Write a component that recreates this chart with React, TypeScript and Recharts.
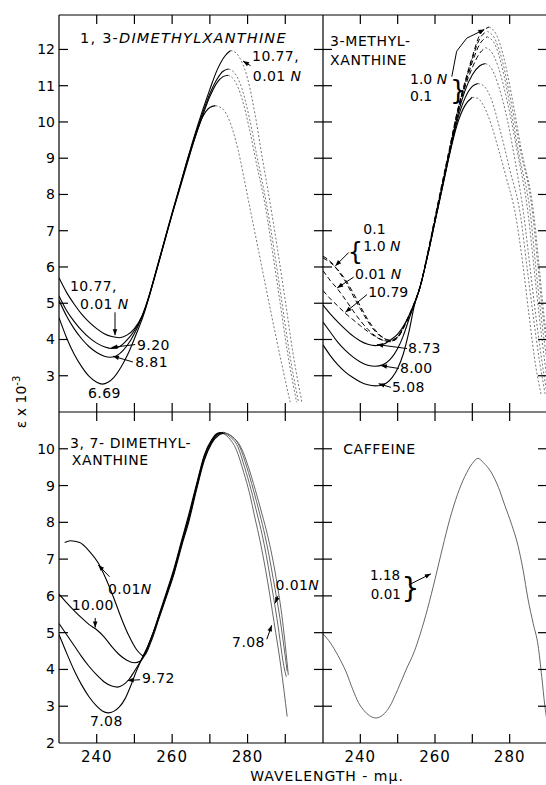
import React from "react";
import { LineChart, Line, XAxis, YAxis, ReferenceDot, ReferenceLine } from "recharts";

const FONT = "'DejaVu Sans', Verdana, sans-serif";

type Pt = [number, number];

// axes
const nmTicksWide = [240, 250, 260, 270, 280, 290];
const nmTicksNarrow = [240, 250, 260, 270, 280];
const nmLabels = [240, 260, 280];
const epsTicksTop = [3, 4, 5, 6, 7, 8, 9, 10, 11, 12];
const epsTicksBottom = [3, 4, 5, 6, 7, 8, 9, 10];
const epsLabelsBottom = [2, 3, 4, 5, 6, 7, 8, 9, 10];

// 1,3-dimethylxanthine  [mμ, ε x 10^-3]
const theo1077: Pt[] = [[230, 5.7], [232, 5.3], [234, 4.98], [236, 4.7], [238, 4.48], [240, 4.3], [242, 4.16], [244, 4.08], [246, 4.05], [248, 4.12], [250, 4.3], [252, 4.65], [254, 5.25], [256, 6.0], [258, 6.75], [260, 7.5], [262, 8.22], [264, 8.95], [266, 9.65], [268, 10.3], [270, 10.9], [272, 11.45], [274, 11.82], [275.5, 11.97], [277, 11.9], [278.5, 11.65], [280, 11.2], [282, 10.2], [284, 8.95], [286, 7.75], [288, 6.45], [290, 5.07], [292, 3.65], [294.4, 2.27]];
const theo920: Pt[] = [[230, 5.2], [232, 4.8], [234, 4.5], [236, 4.25], [238, 4.05], [240, 3.9], [242, 3.8], [244, 3.75], [246, 3.8], [248, 3.98], [250, 4.25], [252, 4.62], [254, 5.22], [256, 5.97], [258, 6.73], [260, 7.48], [262, 8.2], [264, 8.93], [266, 9.6], [268, 10.22], [270, 10.78], [272, 11.2], [273.5, 11.4], [275, 11.46], [276.5, 11.36], [278.5, 10.92], [280.5, 10.1], [282.5, 9.05], [285, 7.75], [287, 6.5], [289, 5.1], [291, 3.7], [293.5, 2.27]];
const theo881: Pt[] = [[230, 5.08], [232, 4.65], [234, 4.3], [236, 4.02], [238, 3.8], [240, 3.64], [242, 3.54], [243.5, 3.51], [245, 3.54], [247, 3.7], [249, 3.98], [251, 4.38], [253, 4.9], [254.5, 5.42], [256, 5.96], [258, 6.72], [260, 7.46], [262, 8.18], [264, 8.9], [266, 9.55], [268, 10.15], [270, 10.7], [272, 11.1], [273.5, 11.25], [274.8, 11.29], [276.5, 11.15], [278.5, 10.65], [280.5, 9.8], [282.5, 8.78], [284.5, 7.8], [286.5, 6.5], [288.5, 5.1], [290.5, 3.7], [293, 2.27]];
const theo669: Pt[] = [[230, 4.6], [232, 4.05], [234, 3.6], [236, 3.25], [238, 2.98], [240, 2.82], [241.5, 2.77], [243, 2.82], [244.5, 2.95], [246.5, 3.25], [248.5, 3.65], [250.5, 4.15], [252.5, 4.7], [254, 5.22], [256, 5.95], [258, 6.7], [260, 7.45], [262, 8.15], [264, 8.85], [266, 9.55], [268, 10.12], [270, 10.4], [271.5, 10.45], [273.5, 10.35], [275.5, 9.95], [277.5, 9.22], [280, 7.95], [283, 6.4], [286, 4.85], [289, 3.35], [291.3, 2.27]];

// 3-methylxanthine
const mx508: Pt[] = [[230, 3.85], [232, 3.55], [234, 3.3], [236, 3.1], [238, 2.95], [240, 2.83], [242, 2.75], [244, 2.72], [245.5, 2.73], [247, 2.8], [248.5, 2.95], [250, 3.2], [251.5, 3.6], [253, 4.2], [254.5, 4.95], [256, 5.45], [258, 6.3], [260, 7.25], [262, 8.2], [264, 9.15], [266, 9.95], [268, 10.45], [270, 10.68], [271.5, 10.65], [273, 10.45], [275, 9.95], [277, 9.25], [279, 8.5], [281.6, 7.42], [283.5, 6.1], [285.2, 4.66], [287, 3.25], [288.5, 2.45]];
const mx800: Pt[] = [[230, 4.48], [232, 4.2], [234, 3.92], [236, 3.7], [238, 3.52], [240, 3.38], [242, 3.29], [244, 3.26], [246, 3.3], [248, 3.45], [250, 3.75], [251.5, 4.1], [253, 4.55], [254.5, 4.98], [256, 5.45], [258, 6.3], [260, 7.25], [262, 8.2], [264, 9.17], [266, 10.05], [268, 10.65], [270, 10.98], [271.5, 11.06], [273, 11.0], [275, 10.65], [277.5, 9.75], [280, 8.7], [282.9, 7.42], [284.7, 5.95], [286.3, 4.66], [288, 3.4], [289.5, 2.5]];
const mx873: Pt[] = [[230, 4.95], [232, 4.7], [234, 4.48], [236, 4.28], [238, 4.1], [240, 3.96], [242, 3.87], [244, 3.83], [246, 3.86], [248, 3.98], [250, 4.15], [252, 4.45], [254, 4.88], [256, 5.45], [258, 6.32], [260, 7.28], [262, 8.25], [264, 9.22], [266, 10.15], [268, 10.85], [270, 11.3], [272, 11.55], [273.5, 11.61], [275, 11.5], [277, 11.0], [279.5, 10.0], [281.5, 8.9], [283.8, 7.42], [285.5, 5.95], [287, 4.66], [288.5, 3.5], [290, 2.5]];
const mx1079: Pt[] = [[230, 5.35], [232, 5.12], [234, 4.92], [236, 4.72], [238, 4.55], [240, 4.38], [242, 4.22], [244, 4.08], [246, 3.98], [248, 3.95], [250, 4.05], [252, 4.4], [254, 4.85], [256, 5.43], [258, 6.32], [260, 7.3], [262, 8.28], [264, 9.25], [266, 10.2], [268, 10.95], [270, 11.5], [272, 11.9], [273.5, 12.05], [275, 11.95], [277, 11.5], [279.5, 10.5], [282, 9.2], [285, 7.42], [286.5, 6.0], [287.9, 4.66], [289.5, 3.3], [290, 2.9]];
const mx001N: Pt[] = [[230, 5.9], [232, 5.62], [234, 5.38], [236, 5.1], [238, 4.8], [240, 4.52], [242, 4.28], [244, 4.1], [246, 3.98], [248, 3.94], [250, 4.05], [252, 4.42], [254, 4.87], [256, 5.44], [258, 6.33], [260, 7.32], [262, 8.3], [264, 9.28], [266, 10.25], [268, 11.0], [270, 11.65], [272, 12.15], [274, 12.35], [276, 12.15], [278, 11.5], [280, 10.5], [282.5, 9.1], [285.6, 7.42], [287, 6.0], [288.4, 4.66], [290, 3.4]];
const mx10N: Pt[] = [[230, 6.3], [232, 6.15], [234, 5.9], [236, 5.6], [238, 5.22], [240, 4.85], [242, 4.5], [244, 4.22], [246, 4.05], [248, 3.97], [250, 4.08], [252, 4.43], [254, 4.88], [256, 5.45], [258, 6.35], [260, 7.35], [262, 8.33], [264, 9.3], [266, 10.28], [268, 11.05], [270, 11.75], [272, 12.3], [274, 12.5], [276, 12.3], [278, 11.7], [280, 10.75], [282.5, 9.4], [286.2, 7.42], [287.6, 6.0], [288.9, 4.66], [290, 3.8]];
const mx01N: Pt[] = [[230, 6.25], [232, 6.12], [234, 5.92], [236, 5.65], [238, 5.3], [240, 4.92], [242, 4.55], [244, 4.26], [246, 4.06], [248, 3.98], [250, 4.08], [252, 4.44], [254, 4.9], [256, 5.47], [258, 6.37], [260, 7.37], [262, 8.36], [264, 9.33], [266, 10.3], [268, 11.1], [270, 11.8], [272, 12.4], [274.5, 12.62], [276.5, 12.4], [278.5, 11.75], [280.5, 10.75], [283, 9.3], [286.5, 7.42], [288, 5.9], [289.2, 4.66], [290, 4.0]];

// 3,7-dimethylxanthine
const tb001N: Pt[] = [[231.5, 7.45], [233, 7.5], [235.5, 7.45], [238, 7.22], [240.5, 6.88], [242.5, 6.45], [244.5, 5.95], [246.5, 5.4], [248.5, 4.92], [250.5, 4.55], [252.5, 4.37], [254.5, 4.78], [256.5, 5.38], [258.5, 5.98], [260.5, 6.6], [262.5, 7.35], [264.5, 8.05], [266.5, 8.9], [268.5, 9.68], [270.5, 10.15], [272.5, 10.38], [274, 10.43], [276, 10.33], [278.2, 10.05], [280.3, 9.48], [282, 8.9], [283.9, 8.2], [285.3, 7.65], [287.6, 6.47], [289.3, 5.3], [290.8, 3.85]];
const tb1000: Pt[] = [[230, 6.05], [232, 5.82], [234, 5.6], [236, 5.4], [238, 5.22], [240, 5.08], [242, 4.88], [244, 4.62], [246, 4.4], [248, 4.25], [250, 4.18], [251.5, 4.22], [253, 4.45], [254.5, 4.85], [256.5, 5.42], [258.5, 6.02], [260.5, 6.65], [262.5, 7.4], [264.5, 8.12], [266.5, 8.95], [268.5, 9.72], [270.5, 10.18], [272, 10.38], [273.6, 10.45], [275.6, 10.35], [277.8, 10.08], [279.8, 9.5], [281.5, 8.9], [283.3, 8.2], [284.6, 7.65], [286.8, 6.47], [288.6, 5.38], [290.5, 3.95]];
const tb972: Pt[] = [[230, 5.25], [232, 4.95], [234, 4.65], [236, 4.35], [238, 4.08], [240, 3.85], [242, 3.66], [244, 3.55], [245.5, 3.52], [247, 3.58], [248.5, 3.72], [250, 3.95], [251.5, 4.2], [253, 4.5], [254.5, 4.88], [256.5, 5.45], [258.5, 6.06], [260.5, 6.7], [262.5, 7.45], [264.5, 8.18], [266.5, 9.0], [268.5, 9.78], [270.5, 10.22], [272, 10.4], [273.3, 10.44], [275.3, 10.33], [277.4, 10.06], [279.2, 9.5], [280.9, 8.9], [282.6, 8.2], [283.9, 7.65], [286, 6.5], [287.8, 5.38], [289.9, 3.95], [290.3, 3.8]];
const tb708: Pt[] = [[230, 4.95], [232, 4.45], [234, 3.98], [236, 3.58], [238, 3.25], [240, 3.0], [241.5, 2.87], [243, 2.82], [244.5, 2.86], [246, 2.98], [247.5, 3.2], [249, 3.55], [250.5, 3.95], [252, 4.3], [253.5, 4.62], [255, 5.0], [256.5, 5.48], [258.5, 6.1], [260.5, 6.75], [262.5, 7.5], [264.5, 8.25], [266.5, 9.05], [268.5, 9.82], [270.5, 10.25], [272, 10.42], [273, 10.44], [275, 10.3], [277, 9.98], [279, 9.35], [280.5, 8.8], [282, 8.1], [283.3, 7.5], [285.3, 6.4], [287, 5.3], [288.8, 4.1], [290.5, 2.72]];

// caffeine
const caffeine: Pt[] = [[230, 4.97], [232, 4.72], [234, 4.38], [236.2, 3.93], [238, 3.45], [239.5, 3.1], [241, 2.88], [242.5, 2.74], [244.2, 2.68], [246, 2.76], [247.8, 2.98], [250, 3.45], [252.2, 3.98], [254.5, 4.5], [256, 4.95], [258, 5.65], [260, 6.45], [262, 7.3], [264, 8.1], [266, 8.75], [268, 9.25], [270, 9.6], [271.5, 9.74], [273, 9.62], [275, 9.37], [277, 8.95], [278.7, 8.46], [280.5, 7.95], [282.2, 7.38], [283.6, 6.7], [284.9, 5.92], [286.3, 5.25], [287.6, 4.66], [288.6, 3.8], [289.4, 3.03], [290, 2.6]];

const rows = (a: Pt[]) => a.map(([x, y]) => ({ x, y }));
const peakIndex = (a: Pt[]) => a.reduce((b, p, i) => (p[1] > a[b][1] ? i : b), 0);

type Stroke = { stroke: string; width: number; dash?: string };
const SOLID: Stroke = { stroke: "#000", width: 1.1 };
const DASHED: Stroke = { stroke: "#000", width: 1, dash: "5 3" };
const DOTTED: Stroke = { stroke: "#777", width: 1, dash: "2 2" };
const GREY: Stroke = { stroke: "#555", width: 0.9 };

function lineEl(key: string, data: Pt[], s: Stroke) {
  return (
    <Line key={key} xAxisId="x" yAxisId="y" data={rows(data)} dataKey="y" type="monotone"
      dot={false} activeDot={false} stroke={s.stroke} strokeWidth={s.width}
      strokeDasharray={s.dash} isAnimationActive={false} />
  );
}

// rising branch and falling branch drawn separately, like the plate
function curve(key: string, a: Pt[], head: Stroke, tail: Stroke) {
  const k = peakIndex(a);
  return [lineEl(key + "-h", a.slice(0, k + 1), head), lineEl(key + "-t", a.slice(k), tail)];
}

const axisStroke = { stroke: "#000", strokeWidth: 1.2 };
const noLabel = () => <g />;

// every panel: frame with inward ticks on all four sides
function frame(xDomain: number[], xTicks: number[], yDomain: number[], yTicks: number[]) {
  const c = { axisLine: axisStroke, tickLine: axisStroke, tick: noLabel, tickSize: 9, interval: 0 as const, allowDataOverflow: true, type: "number" as const };
  return [
    <XAxis key="xb" xAxisId="x" dataKey="x" domain={xDomain} ticks={xTicks} orientation="bottom" mirror height={1} {...c} />,
    <XAxis key="xt" xAxisId="xt" dataKey="x" domain={xDomain} ticks={xTicks} orientation="top" mirror height={1} {...c} />,
    <YAxis key="yl" yAxisId="y" domain={yDomain} ticks={yTicks} orientation="left" mirror width={1} {...c} />,
    <YAxis key="yr" yAxisId="yr" domain={yDomain} ticks={yTicks} orientation="right" mirror width={1} {...c} />,
  ];
}

const yLabels = (domain: number[], ticks: number[]) => (
  <YAxis yAxisId="lab" type="number" domain={domain} ticks={ticks} orientation="left" width={59}
    axisLine={false} tickLine={false} tickSize={0} tickMargin={4} interval={0} allowDataOverflow
    tick={{ fontSize: 14, fill: "#000", fontFamily: FONT }} />
);

const xLabels = (domain: number[]) => (
  <XAxis xAxisId="lab" dataKey="x" type="number" domain={domain} ticks={nmLabels} orientation="bottom" height={42}
    axisLine={false} tickLine={false} tickSize={0} tickMargin={8} interval={0} allowDataOverflow
    tick={{ fontSize: 15, fill: "#000", fontFamily: FONT, letterSpacing: 1 }} />
);

function note(key: string, x: number, y: number, content: React.ReactNode, size = 14, spacing = 0.4) {
  return (
    <ReferenceDot key={key} xAxisId="x" yAxisId="y" x={x} y={y} r={0} fill="none" stroke="none" ifOverflow="visible"
      label={(p: any) => {
        const vb = p.viewBox ?? p;
        return (
          <text x={vb.x} y={vb.y} fontSize={size} fontFamily={FONT} fill="#000" letterSpacing={spacing}>
            {content}
          </text>
        );
      }} />
  );
}

const arrowShape = (withHead: boolean) => (p: any) => {
  const { x1, y1, x2, y2 } = p;
  const a = Math.atan2(y2 - y1, x2 - x1);
  const bx = x2 - 6 * Math.cos(a);
  const by = y2 - 6 * Math.sin(a);
  const nx = -Math.sin(a) * 2.3;
  const ny = Math.cos(a) * 2.3;
  return (
    <g>
      <line x1={x1} y1={y1} x2={x2} y2={y2} stroke="#000" strokeWidth={1} />
      {withHead && <polygon points={`${x2},${y2} ${bx + nx},${by + ny} ${bx - nx},${by - ny}`} fill="#000" />}
    </g>
  );
};

function arrow(key: string, from: Pt, to: Pt, withHead = true) {
  return (
    <ReferenceLine key={key} xAxisId="x" yAxisId="y" ifOverflow="visible"
      segment={[{ x: from[0], y: from[1] }, { x: to[0], y: to[1] }]}
      shape={arrowShape(withHead)} />
  );
}

const N = <tspan fontStyle="italic">N</tspan>;

const TOP_Y = [2, 12.95];
const BOT_Y = [2, 11];
const WIDE_X = [230, 300];
const NARROW_X = [230, 290];

export default function App() {
  return (
    <div style={{ position: "absolute", left: 0, top: 0, width: 546, height: 785, overflow: "hidden", background: "#fff", fontFamily: FONT }}>
      <div style={{ position: "absolute", left: 0, top: 0 }}>
        <LineChart width={323} height={412} margin={{ top: 15, right: 0, bottom: 0, left: 0 }}>
          {frame(WIDE_X, nmTicksWide, TOP_Y, epsTicksTop)}
          {yLabels(TOP_Y, epsTicksTop)}
          {curve("t669", theo669, SOLID, DOTTED)}
          {curve("t881", theo881, SOLID, DOTTED)}
          {curve("t920", theo920, SOLID, DOTTED)}
          {curve("t1077", theo1077, SOLID, DOTTED)}
          {note("tt", 235.6, 12.17, <>1, 3-<tspan fontStyle="italic">DIMETHYLXANTHINE</tspan></>, 14.5, 1.2)}
          {note("ta", 281.2, 11.67, "10.77,")}
          {note("tb", 281.4, 11.12, <>0.01 {N}</>)}
          {arrow("taa", [280.8, 11.55], [278.8, 11.68])}
          {note("tc", 232.9, 5.33, "10.77,")}
          {note("td", 235.6, 4.83, <>0.01 {N}</>)}
          {arrow("tca", [244.85, 4.75], [244.85, 4.12])}
          {note("te", 250.7, 3.72, "9.20")}
          {arrow("tea", [250.2, 3.86], [243.9, 3.78])}
          {note("tf", 250.2, 3.25, "8.81")}
          {arrow("tfa", [249.6, 3.38], [244.3, 3.54])}
          {note("tg", 237.7, 2.39, "6.69")}
        </LineChart>
      </div>

      <div style={{ position: "absolute", left: 323, top: 0 }}>
        <LineChart width={224} height={412} margin={{ top: 15, right: 0, bottom: 0, left: 0 }}>
          {frame(NARROW_X, nmTicksNarrow, TOP_Y, epsTicksTop)}
          {curve("m508", mx508, SOLID, DOTTED)}
          {curve("m800", mx800, SOLID, DOTTED)}
          {curve("m873", mx873, SOLID, DOTTED)}
          {curve("m1079", mx1079, DASHED, DOTTED)}
          {curve("m001", mx001N, DASHED, DOTTED)}
          {curve("m10", mx10N, DASHED, DOTTED)}
          {curve("m01", mx01N, DASHED, DOTTED)}
          {note("mt1", 231.9, 12.09, "3-METHYL-", 14, 0.6)}
          {note("mt2", 231.9, 11.56, "XANTHINE", 14, 0.6)}
          {note("ma", 253.3, 11.06, <>1.0 {N}</>, 14, 0)}
          {note("mb", 253.3, 10.59, "0.1", 14, 0)}
          {note("mbr", 264.0, 10.62, "}", 26)}
          {arrow("mc1", [264.5, 11.25], [265.8, 11.95], false)}
          {arrow("mc2", [265.8, 11.95], [268.5, 12.31], false)}
          {arrow("mc3", [268.5, 12.31], [273.2, 12.55])}
          {note("md", 240.8, 6.9, "0.1", 14, 0)}
          {note("me", 240.8, 6.43, <>1.0 {N}</>, 14, 0)}
          {note("mbl", 236.6, 6.2, "{", 24)}
          {arrow("mea", [236.9, 6.4], [233.3, 6.03])}
          {note("mf", 238.6, 5.66, <>0.01 {N}</>, 14, 0)}
          {arrow("mfa", [238.2, 5.72], [233.8, 5.42])}
          {note("mg", 242.1, 5.16, "10.79", 14, 0)}
          {arrow("mga", [241.8, 5.24], [236.0, 4.75])}
          {note("mh", 252.8, 3.63, "8.73")}
          {arrow("mha", [252.5, 3.75], [244.5, 3.86])}
          {note("mi", 250.6, 3.08, "8.00")}
          {arrow("mia", [250.3, 3.2], [245.5, 3.28])}
          {note("mj", 248.5, 2.55, "5.08")}
          {arrow("mja", [248.2, 2.68], [244.9, 2.78])}
        </LineChart>
      </div>

      <div style={{ position: "absolute", left: 0, top: 412 }}>
        <LineChart width={323} height={373} margin={{ top: 0, right: 0, bottom: 0, left: 0 }}>
          {frame(WIDE_X, nmTicksWide, BOT_Y, epsTicksBottom)}
          {yLabels(BOT_Y, epsLabelsBottom)}
          {xLabels(WIDE_X)}
          {curve("b708", tb708, SOLID, GREY)}
          {curve("b972", tb972, SOLID, GREY)}
          {curve("b1000", tb1000, SOLID, GREY)}
          {curve("b001", tb001N, SOLID, GREY)}
          {note("bt1", 232.9, 10.02, "3, 7- DIMETHYL-", 14, 0.6)}
          {note("bt2", 233.4, 9.56, "XANTHINE", 14, 0.6)}
          {note("ba", 243.0, 6.05, <>0.01{N}</>)}
          {arrow("baa", [243.4, 6.52], [240.4, 6.84])}
          {note("bb", 233.4, 5.62, "10.00")}
          {arrow("bba", [239.6, 5.4], [239.6, 5.14])}
          {note("bc", 252.0, 3.63, "9.72")}
          {arrow("bca", [251.5, 3.72], [248.2, 3.7])}
          {note("bd", 238.2, 2.46, "7.08")}
          {note("be", 287.4, 6.16, <>0.01{N}</>)}
          {arrow("bea", [288.1, 6.0], [287.3, 5.8])}
          {note("bf", 275.9, 4.61, "7.08")}
          {arrow("bfa", [285.1, 4.82], [286.4, 5.2])}
        </LineChart>
      </div>

      <div style={{ position: "absolute", left: 323, top: 412 }}>
        <LineChart width={224} height={373} margin={{ top: 0, right: 0, bottom: 0, left: 0 }}>
          {frame(NARROW_X, nmTicksNarrow, BOT_Y, epsTicksBottom)}
          {xLabels(NARROW_X)}
          {lineEl("caf", caffeine, GREY)}
          {note("ct", 235.4, 9.86, "CAFFEINE", 14, 0.6)}
          {note("ca", 242.6, 6.43, "1.18", 13.5, 0)}
          {note("cb", 242.8, 5.92, "0.01", 13.5, 0)}
          {note("cbr", 251.0, 5.94, "}", 28)}
          {arrow("caa", [253.0, 6.3], [258.9, 6.6])}
        </LineChart>
      </div>

      <svg width={546} height={785} style={{ position: "absolute", left: 0, top: 0, pointerEvents: "none" }}>
        <text transform="translate(26 402) rotate(-90)" textAnchor="middle" fontSize={14} fontFamily={FONT} fill="#000">
          ε x 10<tspan dy={-6} fontSize={10}>-3</tspan>
        </text>
        <text x={327} y={781} textAnchor="middle" fontSize={14} fontFamily={FONT} fill="#000" letterSpacing={1}>
          WAVELENGTH - mμ.
        </text>
      </svg>
    </div>
  );
}
